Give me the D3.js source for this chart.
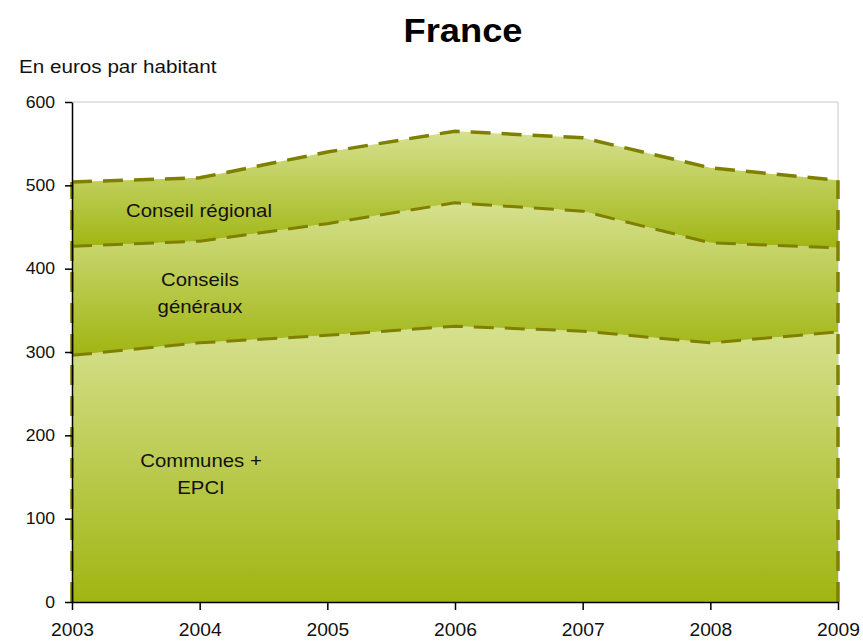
<!DOCTYPE html>
<html><head><meta charset="utf-8">
<script src="https://cdn.jsdelivr.net/npm/d3@7"></script>
<style>body{margin:0;background:#fff;font-family:"Liberation Sans",Arial,sans-serif;}</style>
</head><body>
<svg id="c" width="863" height="643"></svg>
<script>
const years = [2003, 2004, 2005, 2006, 2007, 2008, 2009];
const communes = [296, 311, 320, 331, 325, 311, 324];
const conseilsGeneraux = [131, 122, 134, 148, 144, 120, 101];
const conseilRegional = [77, 76, 86, 86, 88, 90, 81];
const yTicks = [0, 100, 200, 300, 400, 500, 600];
const seriesNames = ["Communes + EPCI", "Conseils généraux", "Conseil régional"];

const FONT = "Liberation Sans, Arial, sans-serif";
const STRETCH = 1.1;
const svg = d3.select("#c");
const m = {left: 72, right: 25, top: 102, bottom: 41};
const W = 863, H = 643;
const x = d3.scaleLinear().domain([2003, 2009]).range([m.left, W - m.right]);
const y = d3.scaleLinear().domain([0, 600]).range([H - m.bottom, m.top]);

function stretch(sel, k) {
  sel.each(function() {
    const l = this.getComputedTextLength();
    d3.select(this).attr("textLength", l * (k || STRETCH)).attr("lengthAdjust", "spacingAndGlyphs");
  });
}

const rows = years.map((yr, i) => ({year: yr, a: communes[i], b: conseilsGeneraux[i], c: conseilRegional[i]}));
const stack = d3.stack().keys(["a", "b", "c"]);
const layers = stack(rows);

const defs = svg.append("defs");
layers.forEach((l, i) => {
  const g = defs.append("linearGradient").attr("id", "g" + i)
    .attr("x1", 0).attr("y1", 0).attr("x2", 0).attr("y2", 1);
  g.append("stop").attr("offset", "0%").attr("stop-color", "#d6e18f");
  g.append("stop").attr("offset", "100%").attr("stop-color", "#a0b512");
});

svg.append("path")
  .attr("d", `M${x(2003)},${y(600)}H${x(2009)}V${y(0)}`)
  .attr("fill", "none").attr("stroke", "#c8c8c8").attr("stroke-width", 1);

const area = d3.area().x(d => x(d.data.year)).y0(d => y(d[0])).y1(d => y(d[1]));
svg.selectAll("path.band").data(layers).join("path")
  .attr("class", "band")
  .attr("d", area)
  .attr("fill", (d, i) => `url(#g${i})`);

const line = d3.line().x(d => x(d.data.year)).y(d => y(d[1]));
const dashColor = "#808000";
svg.selectAll("path.top").data(layers).join("path")
  .attr("class", "top")
  .attr("d", line)
  .attr("fill", "none").attr("stroke", dashColor)
  .attr("stroke-width", (d, i) => i === 2 ? 3.5 : 3)
  .attr("stroke-dasharray", "20,11");

const total = layers[2];
[0, years.length - 1].forEach(idx => {
  svg.append("line")
    .attr("x1", x(years[idx])).attr("x2", x(years[idx]))
    .attr("y1", y(0)).attr("y2", y(total[idx][1]))
    .attr("stroke", dashColor).attr("stroke-width", 3.5)
    .attr("stroke-dasharray", "20,11");
});

const yAxis = d3.axisLeft(y).tickValues(yTicks).tickSize(7).tickSizeOuter(0);
const gy = svg.append("g").attr("transform", `translate(${m.left},0)`).call(yAxis);
gy.select(".domain").attr("stroke", "#000").attr("stroke-width", 1.5);
gy.selectAll(".tick line").attr("stroke", "#000").attr("stroke-width", 1.5);
gy.selectAll(".tick text").attr("font-size", 16).attr("font-family", FONT).attr("fill", "#111")
  .attr("x", -17).attr("dy", "0.33em").call(stretch);

const xAxis = d3.axisBottom(x).tickValues(years).tickFormat(d3.format("d")).tickSize(8).tickSizeOuter(0);
const gx = svg.append("g").attr("transform", `translate(0,${y(0)})`).call(xAxis);
gx.select(".domain").attr("stroke", "#000").attr("stroke-width", 1.5);
gx.selectAll(".tick line").attr("stroke", "#000").attr("stroke-width", 1.5);
gx.selectAll(".tick text").attr("font-size", 17.5).attr("font-family", FONT).attr("fill", "#111")
  .attr("y", 34).attr("dy", 0).call(stretch);

svg.append("text").attr("x", 463).attr("y", 42).attr("text-anchor", "middle")
  .attr("font-size", 33).attr("font-weight", "bold").attr("font-family", FONT).attr("fill", "#000")
  .text("France").call(stretch);
svg.append("text").attr("x", 19).attr("y", 73).attr("font-size", 17.5).attr("font-family", FONT).attr("fill", "#111")
  .text("En euros par habitant").call(stretch, 1.18);

const labels = [
  {lines: ["Communes +", "EPCI"], x: 201, y: 467},
  {lines: ["Conseils", "généraux"], x: 200, y: 286},
  {lines: ["Conseil régional"], x: 199, y: 217}
];
labels.forEach(L => {
  L.lines.forEach((s, j) => {
    svg.append("text").attr("text-anchor", "middle").attr("font-size", 18.5).attr("font-family", FONT)
      .attr("fill", "#111").attr("x", L.x).attr("y", L.y + j * 27).text(s).call(stretch);
  });
});
</script>
</body></html>
